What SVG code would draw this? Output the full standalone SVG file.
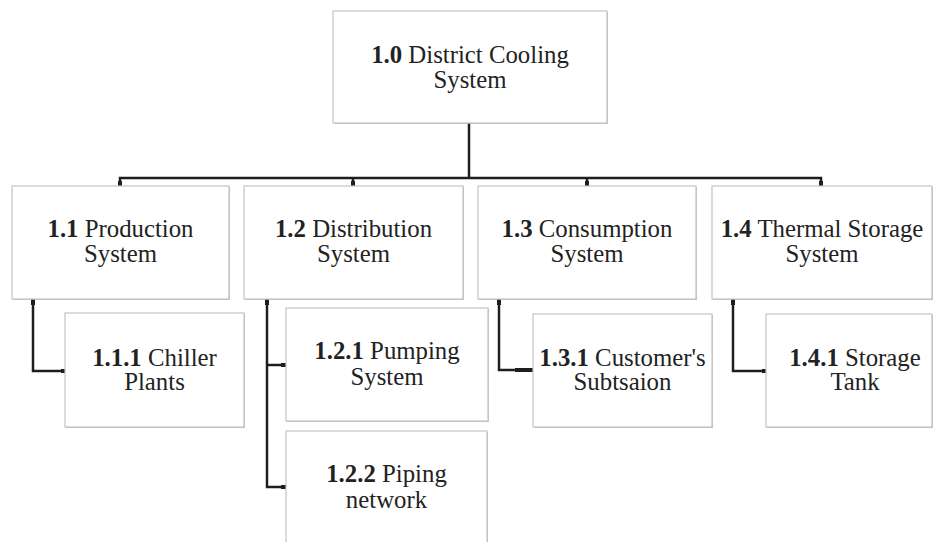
<svg xmlns="http://www.w3.org/2000/svg" width="936" height="542" viewBox="0 0 936 542">
<style>
.box{fill:#ffffff;stroke:#c4c4c4;stroke-width:1.2}
.shadow{fill:#9a9a9a;opacity:0.6}
.t{font-family:"Liberation Serif","Times New Roman",serif;font-size:24.8px;fill:#222222;text-anchor:middle}
.b{font-weight:bold}
.c{fill:none;stroke:#1e1e1e;stroke-width:2.5;stroke-linecap:butt;stroke-linejoin:miter}
.cap{fill:#1e1e1e}
</style>
<rect width="936" height="542" fill="#ffffff"/>
<g id="connectors">
<path class="c" d="M469 123 V178"/>
<path class="c" d="M120 186 V178 H821 V186"/>
<path class="c" d="M353 178 V186"/>
<path class="c" d="M587 178 V186"/>
<path class="c" d="M33 299 V371 H65"/>
<path class="c" d="M267 299 V487 H286"/>
<path class="c" d="M267 365 H286"/>
<path class="c" d="M499 299 V370 H533"/>
<path class="c" d="M733 299 V371 H766"/>
<rect class="cap" x="118" y="181" width="4" height="5"/>
<rect class="cap" x="351" y="181" width="4" height="5"/>
<rect class="cap" x="585" y="181" width="4" height="5"/>
<rect class="cap" x="819" y="181" width="4" height="5"/>
<rect class="cap" x="31" y="299" width="4" height="6"/>
<rect class="cap" x="265" y="299" width="4" height="6"/>
<rect class="cap" x="497" y="299" width="4" height="6"/>
<rect class="cap" x="731" y="299" width="4" height="6"/>
<rect class="cap" x="61" y="369" width="5" height="4"/>
<rect class="cap" x="281" y="363" width="5" height="4"/>
<rect class="cap" x="281" y="485" width="5" height="4"/>
<rect class="cap" x="515" y="368" width="18" height="4"/>
<rect class="cap" x="762" y="369" width="5" height="4"/>
</g>
<g id="n1_0">
<rect class="shadow" x="334" y="12" width="274" height="112"/>
<rect class="box" x="333" y="11" width="274" height="112"/>
<text class="t" x="470" y="63"><tspan class="b">1.0</tspan> District Cooling</text>
<text class="t" x="470" y="88">System</text>
</g>
<g id="n1_1">
<rect class="shadow" x="13" y="187" width="217" height="113"/>
<rect class="box" x="12" y="186" width="217" height="113"/>
<text class="t" x="120.5" y="237"><tspan class="b">1.1</tspan> Production</text>
<text class="t" x="120.5" y="262">System</text>
</g>
<g id="n1_2">
<rect class="shadow" x="245" y="187" width="219" height="113"/>
<rect class="box" x="244" y="186" width="219" height="113"/>
<text class="t" x="353.5" y="237"><tspan class="b">1.2</tspan> Distribution</text>
<text class="t" x="353.5" y="262">System</text>
</g>
<g id="n1_3">
<rect class="shadow" x="479" y="187" width="218" height="113"/>
<rect class="box" x="478" y="186" width="218" height="113"/>
<text class="t" x="587" y="237"><tspan class="b">1.3</tspan> Consumption</text>
<text class="t" x="587" y="262">System</text>
</g>
<g id="n1_4">
<rect class="shadow" x="713" y="187" width="220" height="113"/>
<rect class="box" x="712" y="186" width="220" height="113"/>
<text class="t" x="822" y="237"><tspan class="b">1.4</tspan> Thermal Storage</text>
<text class="t" x="822" y="262">System</text>
</g>
<g id="n1_1_1">
<rect class="shadow" x="66" y="314" width="179" height="114"/>
<rect class="box" x="65" y="313" width="179" height="114"/>
<text class="t" x="154.5" y="366"><tspan class="b">1.1.1</tspan> Chiller</text>
<text class="t" x="154.5" y="390">Plants</text>
</g>
<g id="n1_2_1">
<rect class="shadow" x="287" y="309" width="202" height="113"/>
<rect class="box" x="286" y="308" width="202" height="113"/>
<text class="t" x="387" y="359"><tspan class="b">1.2.1</tspan> Pumping</text>
<text class="t" x="387" y="385">System</text>
</g>
<g id="n1_2_2">
<rect class="shadow" x="287" y="432" width="201" height="120"/>
<rect class="box" x="286" y="431" width="201" height="120"/>
<text class="t" x="386.5" y="482"><tspan class="b">1.2.2</tspan> Piping</text>
<text class="t" x="386.5" y="508">network</text>
</g>
<g id="n1_3_1">
<rect class="shadow" x="534" y="315" width="179" height="113"/>
<rect class="box" x="533" y="314" width="179" height="113"/>
<text class="t" x="622.5" y="366"><tspan class="b">1.3.1</tspan> Customer's</text>
<text class="t" x="622.5" y="390">Subtsaion</text>
</g>
<g id="n1_4_1">
<rect class="shadow" x="767" y="315" width="166" height="113"/>
<rect class="box" x="766" y="314" width="166" height="113"/>
<text class="t" x="855" y="366"><tspan class="b">1.4.1</tspan> Storage</text>
<text class="t" x="855" y="390">Tank</text>
</g>
</svg>
